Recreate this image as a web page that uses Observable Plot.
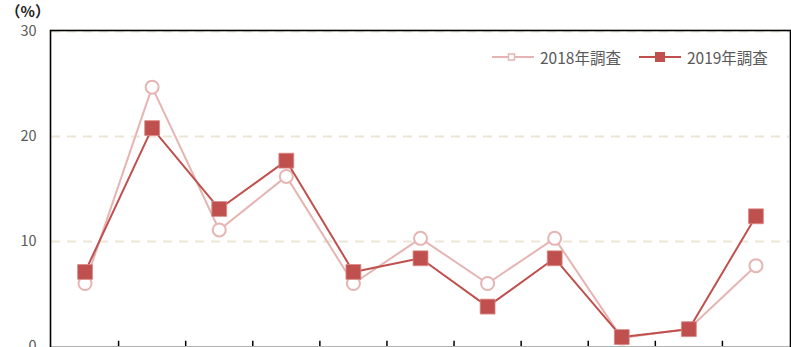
<!DOCTYPE html>
<html>
<head>
<meta charset="utf-8">
<script src="https://cdn.jsdelivr.net/npm/d3@7"></script>
<script src="https://cdn.jsdelivr.net/npm/@observablehq/plot@0.6"></script>
<style>
  html, body { margin: 0; padding: 0; background: #fff; overflow: hidden; }
  #wrap { position: relative; width: 791px; height: 347px; overflow: hidden; }
  #legend { position: absolute; top: 46px; left: 490px; display: flex; align-items: center;
    font-family: "Noto Sans CJK JP", sans-serif; font-size: 15.5px; color: #595959; white-space: nowrap; }
  #legend .item { display: flex; align-items: center; }
  #legend svg { display: block; }
</style>
</head>
<body>
<div id="wrap">
  <div id="chart"></div>
  <div id="legend"></div>
</div>
<script>
const categories = ["1", "2", "3", "4", "5", "6", "7", "8", "9", "10", "11"];
const seriesNames = ["2018年調査", "2019年調査"];
const values2018 = [6.0, 24.7, 11.1, 16.2, 6.0, 10.3, 6.0, 10.3, 0.8, 1.7, 7.7];
const values2019 = [7.1, 20.8, 13.1, 17.7, 7.1, 8.4, 3.8, 8.4, 0.9, 1.65, 12.4];
const yTicks = [0, 10, 20, 30];
const gridValues = [10, 20, 30];
const yUnit = "（%）";
const colors = ["#e6b4b3", "#c0504d"];

const rows2018 = categories.map((c, i) => ({cat: c, x: i + 1, v: values2018[i]}));
const rows2019 = categories.map((c, i) => ({cat: c, x: i + 1, v: values2019[i]}));
const boundaries = d3.range(1.5, categories.length, 1);

const font = "'Noto Sans CJK JP', sans-serif";

const chart = Plot.plot({
  width: 791,
  height: 372,
  marginLeft: 51,
  marginRight: 2,
  marginTop: 31,
  marginBottom: 26,
  style: {fontFamily: font, background: "white", overflow: "visible"},
  x: {type: "linear", domain: [0.5, categories.length + 0.5], axis: null},
  y: {domain: [0, 30], axis: null},
  marks: [
    Plot.ruleY(gridValues, {stroke: "#ebe6d6", strokeWidth: 2, strokeDasharray: "9,7"}),
    Plot.ruleX(boundaries, {y1: 0, y2: 0.5, stroke: "#000", strokeWidth: 1.5}),
    Plot.axisY({ticks: yTicks, tickSize: 0, tickPadding: 15, fontSize: 14.5, color: "#595959", label: null}),
    Plot.text([yUnit], {frameAnchor: "top-left", dx: -46, dy: -25, fontSize: 15, fontWeight: "bold", fill: "#222", textAnchor: "start"}),
    Plot.line(rows2018, {x: "x", y: "v", stroke: colors[0], strokeWidth: 2}),
    Plot.dot(rows2018, {x: "x", y: "v", r: 6.5, symbol: "circle", fill: "white", stroke: colors[0], strokeWidth: 2}),
    Plot.line(rows2019, {x: "x", y: "v", stroke: colors[1], strokeWidth: 2}),
    Plot.dot(rows2019, {x: "x", y: "v", r: 8.4, symbol: "square", fill: colors[1], stroke: "#d98a88", strokeWidth: 0.8}),
    Plot.frame({stroke: "#000", strokeWidth: 1.6, inset: -1})
  ]
});
document.getElementById("chart").appendChild(chart);

// legend
const legend = document.getElementById("legend");
seriesNames.forEach((name, i) => {
  const item = document.createElement("div");
  item.className = "item";
  item.style.marginRight = i === 0 ? "16px" : "0";
  const s = d3.create("svg").attr("width", 46).attr("height", 20);
  s.append("line").attr("x1", 2).attr("x2", 44).attr("y1", 10).attr("y2", 10)
    .attr("stroke", colors[i]).attr("stroke-width", 2);
  if (i === 0) {
    s.append("rect").attr("x", 18.5).attr("y", 7).attr("width", 6).attr("height", 6)
      .attr("fill", "white").attr("stroke", colors[0]).attr("stroke-width", 1.5);
  } else {
    s.append("rect").attr("x", 18).attr("y", 5).attr("width", 10).attr("height", 10)
      .attr("fill", colors[1]);
  }
  item.appendChild(s.node());
  const t = document.createElement("span");
  t.textContent = name;
  t.style.marginLeft = "4px";
  item.appendChild(t);
  legend.appendChild(item);
});
</script>
</body>
</html>
